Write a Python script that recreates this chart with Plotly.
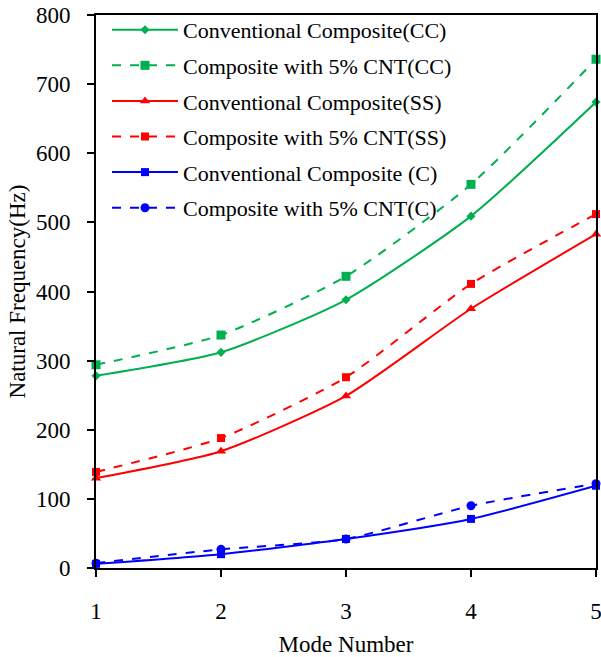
import plotly.graph_objects as go

modes = [1, 2, 3, 4, 5]
cc_conv = [278, 312, 388, 509, 674]
cc_cnt = [294, 337, 422, 555, 736]
ss_conv = [130, 169, 249, 375, 483]
ss_cnt = [139, 188, 276, 411, 512]
c_conv = [6, 20, 42, 71, 119]
c_cnt = [7, 27, 42, 90, 122]

names = ["Conventional Composite(CC)", "Composite with 5% CNT(CC)",
         "Conventional Composite(SS)", "Composite with 5% CNT(SS)",
         "Conventional Composite (C)", "Composite with 5% CNT(C)"]

GREEN = "#00B050"
RED = "#FF0000"
BLUE = "#0000FF"

series = [
    (cc_conv, GREEN, "solid", "diamond", 7),
    (cc_cnt, GREEN, "dash", "square", 9),
    (ss_conv, RED, "solid", "triangle-up", 9),
    (ss_cnt, RED, "dash", "square", 8),
    (c_conv, BLUE, "solid", "square", 8),
    (c_cnt, BLUE, "dash", "circle", 9),
]

fig = go.Figure()
for i, (name, (vals, col, dash, sym, size)) in enumerate(zip(names, series)):
    fig.add_trace(go.Scatter(
        x=modes, y=vals, name=name, mode="lines+markers", legendgroup=f"g{i}",
        line=dict(color=col, width=2, dash=dash, shape="spline", smoothing=0.6),
        marker=dict(symbol=sym, size=size, color=col),
        cliponaxis=False,
    ))

fig.update_layout(
    width=601, height=657,
    margin=dict(l=96, r=5, t=15, b=89),
    paper_bgcolor="white", plot_bgcolor="white",
    font=dict(family="Liberation Serif, Times New Roman, serif", size=23, color="black"),
    showlegend=True,
    legend=dict(x=0.022, y=1.011, xanchor="left", yanchor="top",
                bgcolor="rgba(0,0,0,0)", font=dict(size=22),
                traceorder="grouped", tracegroupgap=4, itemwidth=66),
)
fig.update_xaxes(
    range=[1, 5], tickvals=modes, showline=True, linecolor="black", linewidth=2,
    mirror=True, ticks="outside", ticklen=7, tickwidth=2, tickcolor="black",
    showgrid=False, zeroline=False, automargin=False, ticklabeloverflow="allow",
    ticklabelstandoff=14,
    title=dict(text="Mode Number", font=dict(size=23), standoff=13),
)
fig.update_yaxes(
    range=[0, 800], dtick=100, showline=True, linecolor="black", linewidth=2,
    mirror=True, ticks="outside", ticklen=7, tickwidth=2, tickcolor="black",
    showgrid=False, zeroline=False, automargin=False, ticklabelstandoff=12,
    ticklabeloverflow="allow",
    title=dict(text="Natural Frequency(Hz)", font=dict(size=23), standoff=4),
)

fig.write_html("out.html", config={"displayModeBar": False},
               post_script="document.body.style.margin='0';document.body.style.overflow='hidden';")
